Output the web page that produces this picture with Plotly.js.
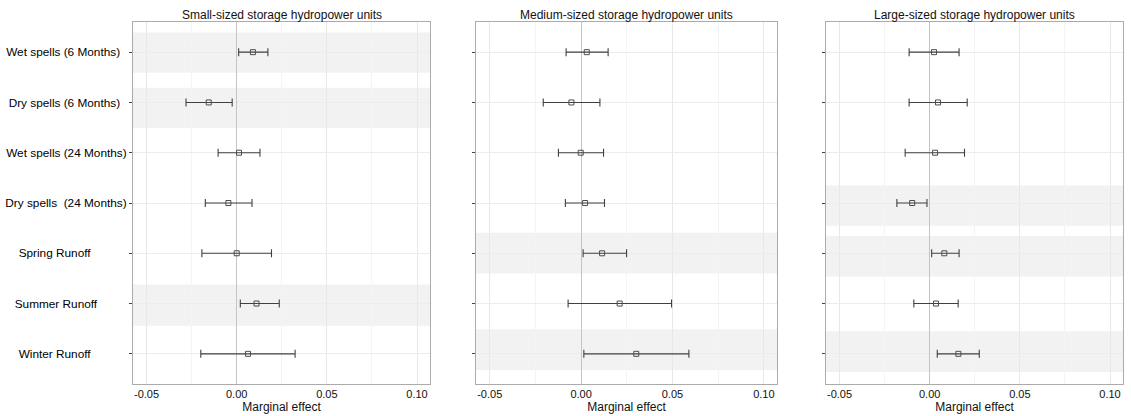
<!DOCTYPE html>
<html>
<head>
<meta charset="utf-8">
<script src="https://cdn.plot.ly/plotly-3.0.1.min.js"></script>
<style>
  html, body { margin: 0; padding: 0; background: #fff; }
  #chart { width: 1131px; height: 416px; }
</style>
</head>
<body>
<div id="chart"></div>
<script>
// Predictors, top to bottom
const predictors = [
  'Wet spells (6 Months)',
  'Dry spells (6 Months)',
  'Wet spells (24 Months)',
  'Dry spells  (24 Months)',
  'Spring Runoff',
  'Summer Runoff',
  'Winter Runoff'
];

// Small-sized units: estimate with lower / upper bound of the interval
const smallEst = [0.009, -0.0155, 0.0013, -0.0046, 0.0000, 0.0110, 0.0063];
const smallLow = [0.0011, -0.0281, -0.0103, -0.0174, -0.0193, 0.0020, -0.0199];
const smallHigh = [0.0173, -0.0025, 0.0129, 0.0085, 0.0193, 0.0236, 0.0324];

// Medium-sized units
const mediumEst = [0.0031, -0.0053, -0.0002, 0.0022, 0.0115, 0.0211, 0.0302];
const mediumLow = [-0.0082, -0.0207, -0.0124, -0.0086, 0.0011, -0.0071, 0.0015];
const mediumHigh = [0.0148, 0.0103, 0.0123, 0.0128, 0.0249, 0.0495, 0.0590];

// Large-sized units
const largeEst = [0.0024, 0.0046, 0.0030, -0.0097, 0.0081, 0.0035, 0.0159];
const largeLow = [-0.0114, -0.0114, -0.0136, -0.0182, 0.0011, -0.0088, 0.0042];
const largeHigh = [0.0163, 0.0208, 0.0193, -0.0015, 0.0163, 0.0158, 0.0275];

const panelTitles = [
  'Small-sized storage hydropower units',
  'Medium-sized storage hydropower units',
  'Large-sized storage hydropower units'
];

const xTickVals = [-0.05, 0, 0.05, 0.10];
const xTickText = ['-0.05', '0.00', '0.05', '0.10'];

// Shaded row bands per panel: [from, to] on the row axis
const bandSpans = [
  [[0.61, 1.41], [1.71, 2.51], [5.62, 6.44]],
  [[4.59, 5.40], [6.51, 7.32]],
  [[3.65, 4.45], [4.65, 5.46], [6.55, 7.36]]
];

const NB = '\u00a0';
// Row labels padded so they sit where the layout wants them
const labelPad = [2, 2, 0, 0, 11, 9, 11];
const rowLabels = predictors.map((p, i) =>
  p.replace(/  /g, ' ' + NB) + NB.repeat(labelPad[i]));

const rowPos = predictors.map((_, i) => i + 1);

const panels = [
  [smallEst, smallLow, smallHigh],
  [mediumEst, mediumLow, mediumHigh],
  [largeEst, largeLow, largeHigh]
];

const W = 1131;
const domains = [[133 / W, 430 / W], [476 / W, 777 / W], [826 / W, 1123 / W]];
const xRange = [-0.0575, 0.1072];

const traces = panels.map(([est, lo, hi], k) => ({
  type: 'scatter',
  mode: 'markers',
  x: est,
  y: rowPos,
  xaxis: k === 0 ? 'x' : 'x' + (k + 1),
  yaxis: k === 0 ? 'y' : 'y' + (k + 1),
  marker: { symbol: 'square-open', size: 5, color: '#4d4d4d', line: { width: 1, color: '#4d4d4d' } },
  error_x: {
    type: 'data',
    symmetric: false,
    array: est.map((v, i) => hi[i] - v),
    arrayminus: est.map((v, i) => v - lo[i]),
    color: '#404040',
    thickness: 1.1,
    width: 4
  },
  showlegend: false,
  hoverinfo: 'x+y'
}));

const layout = {
  width: 1131,
  height: 416,
  margin: { l: 0, r: 0, t: 22, b: 32 },
  paper_bgcolor: '#ffffff',
  plot_bgcolor: '#ffffff',
  font: { family: 'Arial, "Liberation Sans", sans-serif', size: 11, color: '#111111' },
  showlegend: false,
  shapes: [],
  annotations: []
};

panels.forEach((_, k) => {
  const sx = k === 0 ? '' : String(k + 1);
  layout['xaxis' + sx] = {
    domain: domains[k],
    anchor: 'y' + sx,
    range: xRange,
    tickvals: xTickVals,
    ticktext: xTickText,
    ticks: '',
    tickfont: { size: 11, color: '#111111' },
    showgrid: true,
    gridcolor: '#e8e8e8',
    gridwidth: 1,
    minor: { tick0: 0, dtick: 0.025, showgrid: true, gridcolor: '#f4f4f4', gridwidth: 1 },
    zeroline: true,
    zerolinecolor: '#c4c4c4',
    zerolinewidth: 1,
    showline: true,
    linecolor: '#ababab',
    linewidth: 1,
    mirror: true,
    automargin: false,
    title: { text: 'Marginal effect', font: { size: 12, color: '#111111' }, standoff: 2 }
  };
  layout['yaxis' + sx] = {
    domain: [0, 1],
    anchor: 'x' + sx,
    range: [7.6, 0.4],
    tickvals: rowPos,
    ticktext: k === 0 ? rowLabels : rowPos.map(() => ''),
    ticks: 'outside',
    ticklen: 3,
    tickcolor: '#444444',
    tickfont: { size: 11.8, color: '#000000' },
    showgrid: true,
    gridcolor: '#ececec',
    gridwidth: 1,
    zeroline: false,
    showline: true,
    linecolor: '#ababab',
    linewidth: 1,
    mirror: true,
    automargin: false
  };
  bandSpans[k].forEach(([a, b]) => {
    layout.shapes.push({
      type: 'rect',
      xref: 'x' + sx + ' domain',
      yref: 'y' + sx,
      x0: 0, x1: 1, y0: a, y1: b,
      fillcolor: '#f2f2f2',
      line: { width: 0 },
      layer: 'below'
    });
  });
  layout.annotations.push({
    text: panelTitles[k],
    xref: 'paper', yref: 'paper',
    x: (domains[k][0] + domains[k][1]) / 2,
    y: 1,
    xanchor: 'center', yanchor: 'bottom',
    yshift: -2,
    showarrow: false,
    font: { size: 12, color: '#111111' }
  });
});

Plotly.newPlot('chart', traces, layout, { displayModeBar: false, staticPlot: true });
</script>
</body>
</html>
